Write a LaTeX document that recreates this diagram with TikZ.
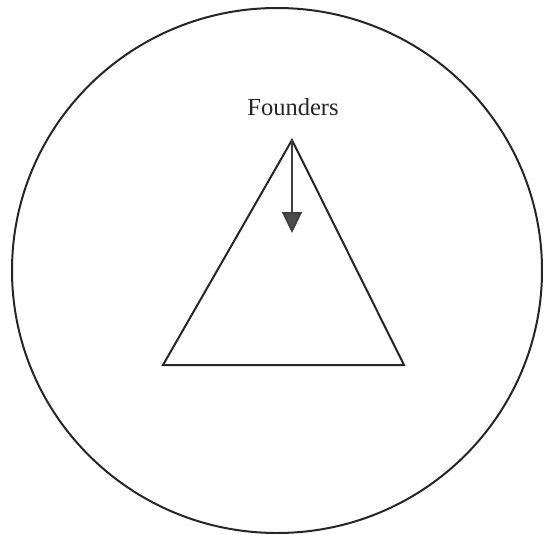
\documentclass[tikz,border=0pt]{standalone}
\usepackage{fontspec}
\setmainfont{Liberation Serif}
\usetikzlibrary{arrows.meta}
\begin{document}
\begin{tikzpicture}[x=1pt,y=-1pt,
  outline/.style={line width=2pt,draw=black!85},
  flow/.style={line width=2pt,draw=black!75,-{Triangle[length=21pt,width=20pt,fill=black!70]}},
  lbl/.style={font=\fontsize{24.5}{28}\selectfont,text=black!85}]
\useasboundingbox (0,0) rectangle (544,535);
\draw[outline] (277,270.5) ellipse [x radius=265, y radius=262.5];
\coordinate (apex) at (292,140);
\coordinate (bl) at (163,365);
\coordinate (br) at (404,365);
\coordinate (tip) at (292,233);
\draw[outline,line join=miter] (apex) -- (bl) -- (br) -- cycle;
\draw[flow] (apex) -- (tip);
\node[lbl] (founders) at (293,107) {Founders};
\end{tikzpicture}
\end{document}
